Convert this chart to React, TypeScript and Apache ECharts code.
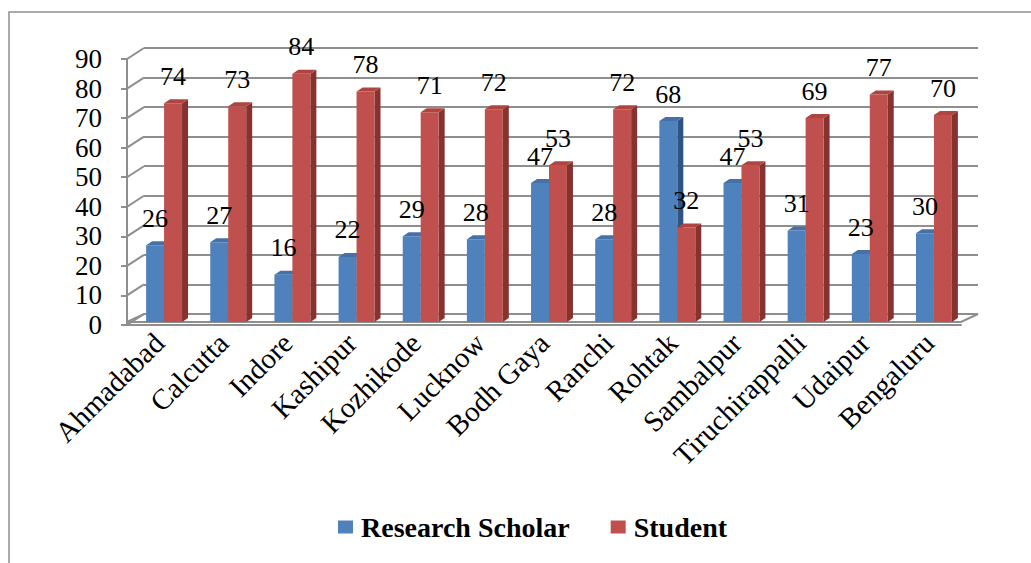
import React, { useEffect, useRef } from "react";
import * as echarts from "echarts";

// Campus names along the category axis
const categories = [
  "Ahmadabad",
  "Calcutta",
  "Indore",
  "Kashipur",
  "Kozhikode",
  "Lucknow",
  "Bodh Gaya",
  "Ranchi",
  "Rohtak",
  "Sambalpur",
  "Tiruchirappalli",
  "Udaipur",
  "Bengaluru",
];

// Respondent counts per campus
const researchScholar = [26, 27, 16, 22, 29, 28, 47, 28, 68, 47, 31, 23, 30];
const student = [74, 73, 84, 78, 71, 72, 53, 72, 32, 53, 69, 77, 70];

// Value axis range
const yMin = 0;
const yMax = 90;
const yStep = 10;
const yTicks = Array.from({ length: (yMax - yMin) / yStep + 1 }, (_, i) => yMin + i * yStep);

const seriesNames = ["Research Scholar", "Student"];

const FONT = "Liberation Serif";
const GRID_COLOR = "#8e8e8e";

// Faux-3D depth of the walls and of each bar
const WALL_DX = 17;
const WALL_DY = -11;
const BAR_DX = 6;
const BAR_DY = -4;
const BAR_LIFT = 3;

const palettes = [
  { front: "#4F81BD", side: "#2f5383", top: "#4471a8" },
  { front: "#C0504D", side: "#853230", top: "#b0453f" },
];

function makeBarRenderer(seriesIdx: number) {
  const pal = palettes[seriesIdx];
  return (params: any, api: any) => {
    const idx = api.value(0);
    const val = api.value(1);
    const [cx, y] = api.coord([idx, val]);
    const y0 = api.coord([idx, 0])[1];
    const band = api.size([1, 0])[0];
    const w = band * 0.28;
    const left = cx + band * (seriesIdx === 0 ? -0.202 : 0.078);
    const top = y - BAR_LIFT;
    const base = y0 - BAR_LIFT;
    const right = left + w;
    return {
      type: "group",
      children: [
        {
          type: "polygon",
          shape: {
            points: [
              [right, top],
              [right + BAR_DX, top + BAR_DY],
              [right + BAR_DX, base + BAR_DY],
              [right, base],
            ],
          },
          style: { fill: pal.side },
        },
        {
          type: "rect",
          shape: { x: left, y: top, width: w, height: base - top },
          style: { fill: pal.front },
        },
        {
          type: "polygon",
          shape: {
            points: [
              [left, top],
              [left + BAR_DX, top + BAR_DY],
              [right + BAR_DX, top + BAR_DY],
              [right, top],
            ],
          },
          style: { fill: pal.top },
        },
        {
          type: "text",
          z2: 100,
          style: {
            text: String(val),
            x: left + w / 2,
            y: top - 14,
            align: "center",
            verticalAlign: "bottom",
            fill: "#000",
            font: "26px 'Liberation Serif'",
          },
        },
      ],
    };
  };
}

// Left wall connectors and the floor of the plot box
function renderFrame(params: any, api: any) {
  const kind = api.value(0);
  const v = api.value(1);
  const gx = params.coordSys.x;
  const gw = params.coordSys.width;
  const y = api.coord([0, v])[1];
  const lineStyle = { stroke: GRID_COLOR, lineWidth: 2 };
  if (kind === 0) {
    return {
      type: "line",
      shape: { x1: gx, y1: y, x2: gx + WALL_DX, y2: y + WALL_DY },
      style: lineStyle,
    };
  }
  return {
    type: "polygon",
    shape: {
      points: [
        [gx, y - BAR_LIFT],
        [gx + gw, y - BAR_LIFT],
        [gx + gw + WALL_DX, y + WALL_DY],
        [gx + WALL_DX, y + WALL_DY],
      ],
    },
    style: { fill: "none", stroke: GRID_COLOR, lineWidth: 2 },
  };
}

export default function App() {
  const ref = useRef<HTMLDivElement>(null);

  useEffect(() => {
    if (!ref.current) return;
    const chart = echarts.init(ref.current, undefined, { renderer: "svg" });

    const frameData = [
      ...yTicks.map((t) => [0, t]),
      [1, yMin],
    ];

    chart.setOption({
      animation: false,
      backgroundColor: "#fff",
      textStyle: { fontFamily: FONT },
      graphic: [
        {
          type: "rect",
          shape: { x: 9, y: 12, width: 1100, height: 700 },
          style: { fill: "none", stroke: GRID_COLOR, lineWidth: 1.5 },
          silent: true,
        },
      ],
      legend: {
        data: seriesNames,
        left: 333,
        top: 508,
        itemWidth: 15,
        itemHeight: 13,
        itemGap: 41,
        icon: "rect",
        textStyle: {
          fontFamily: FONT,
          fontSize: 28,
          fontWeight: "bold",
          color: "#000",
          padding: [0, 0, 0, 3],
        },
      },
      grid: [
        { left: 127, right: 70, top: 59, bottom: 238 },
        { left: 127 + WALL_DX, right: 70 - WALL_DX, top: 59 + WALL_DY, bottom: 238 - WALL_DY },
      ],
      xAxis: [
        {
          type: "category",
          gridIndex: 0,
          data: categories,
          axisLine: { lineStyle: { color: GRID_COLOR, width: 2 } },
          axisTick: { length: 8, lineStyle: { color: GRID_COLOR, width: 2 } },
          axisLabel: {
            rotate: 45,
            interval: 0,
            margin: 13,
            color: "#000",
            fontSize: 29,
            fontFamily: FONT,
          },
        },
        {
          type: "category",
          gridIndex: 1,
          data: categories,
          show: false,
        },
      ],
      yAxis: [
        {
          type: "value",
          gridIndex: 0,
          min: yMin,
          max: yMax,
          interval: yStep,
          axisLine: { show: true, lineStyle: { color: GRID_COLOR, width: 2 } },
          axisTick: { show: true, length: 6, lineStyle: { color: GRID_COLOR, width: 2 } },
          splitLine: { show: false },
          axisLabel: {
            margin: 25,
            color: "#000",
            fontSize: 27,
            fontFamily: FONT,
          },
        },
        {
          type: "value",
          gridIndex: 1,
          min: yMin,
          max: yMax,
          interval: yStep,
          axisLine: { show: false },
          axisTick: { show: false },
          axisLabel: { show: false },
          splitLine: { show: true, lineStyle: { color: GRID_COLOR, width: 2 } },
        },
      ],
      series: [
        {
          type: "custom",
          name: "frame",
          xAxisIndex: 0,
          yAxisIndex: 0,
          z: 1,
          silent: true,
          renderItem: renderFrame,
          data: frameData,
        },
        {
          type: "custom",
          name: seriesNames[0],
          xAxisIndex: 0,
          yAxisIndex: 0,
          z: 2,
          itemStyle: { color: palettes[0].front },
          renderItem: makeBarRenderer(0),
          data: researchScholar.map((v, i) => [i, v]),
        },
        {
          type: "custom",
          name: seriesNames[1],
          xAxisIndex: 0,
          yAxisIndex: 0,
          z: 2,
          itemStyle: { color: palettes[1].front },
          renderItem: makeBarRenderer(1),
          data: student.map((v, i) => [i, v]),
        },
      ],
    });

    return () => chart.dispose();
  }, []);

  return (
    <div
      ref={ref}
      style={{ position: "absolute", left: 0, top: 0, width: 1031, height: 563 }}
    />
  );
}
